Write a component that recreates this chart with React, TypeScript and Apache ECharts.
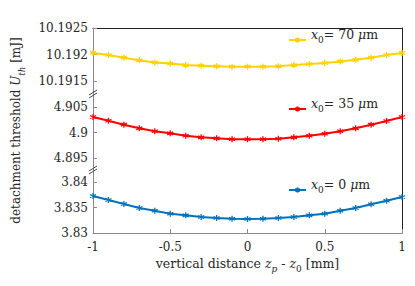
import React, { useEffect, useRef } from 'react';
import * as echarts from 'echarts';

const xValues = [-1, -0.9, -0.8, -0.7, -0.6, -0.5, -0.4, -0.3, -0.2, -0.1, 0, 0.1, 0.2, 0.3, 0.4, 0.5, 0.6, 0.7, 0.8, 0.9, 1];
const u70 = [10.19203, 10.19199, 10.19194, 10.19189, 10.19185, 10.19183, 10.1918, 10.19179, 10.19178, 10.19177, 10.19177, 10.19177, 10.19178, 10.1918, 10.19182, 10.19184, 10.19187, 10.1919, 10.19194, 10.19199, 10.19203];
const u35 = [4.90304, 4.90231, 4.90153, 4.90082, 4.90024, 4.89984, 4.89937, 4.89906, 4.89886, 4.89867, 4.89867, 4.89867, 4.89878, 4.89906, 4.89937, 4.89976, 4.90024, 4.90082, 4.90153, 4.90225, 4.90304];
const u0 = [3.83725, 3.83647, 3.83569, 3.8349, 3.83437, 3.83378, 3.83347, 3.83314, 3.83294, 3.8328, 3.83275, 3.8328, 3.83294, 3.83314, 3.83347, 3.83378, 3.83437, 3.8349, 3.83563, 3.83633, 3.83706];
const seriesNames = ['x0 = 70 um', 'x0 = 35 um', 'x0 = 0 um'];
const legendValues = ['70', '35', '0'];
const yRanges = [
  { min: 10.1915, max: 10.1925, interval: 0.0005 },
  { min: 4.895, max: 4.905, interval: 0.005 },
  { min: 3.83, max: 3.84, interval: 0.005 },
];
const colors = ['#FFD200', '#FF0000', '#0072BD'];

const FONT = 'DejaVu Serif';
const TXT = '#262626';
const LEFT = 93;
const WIDTH = 309;
const grids = [
  { top: 28, height: 53 },
  { top: 107, height: 51 },
  { top: 182, height: 51 },
];

const star = 'path://M5,0L5,10M0.7,2.5L9.3,7.5M0.7,7.5L9.3,2.5';

const mkRich = (fs: number) => ({
  n: { fontFamily: FONT, fontSize: fs, color: TXT, lineHeight: 14, verticalAlign: 'top' },
  i: { fontFamily: FONT, fontSize: fs, color: TXT, fontStyle: 'italic', lineHeight: 14, verticalAlign: 'top' },
  s: { fontFamily: FONT, fontSize: fs * 0.72, color: TXT, lineHeight: 24, verticalAlign: 'middle' },
  si: { fontFamily: FONT, fontSize: fs * 0.72, color: TXT, fontStyle: 'italic', lineHeight: 24, verticalAlign: 'middle' },
});

export default function App() {
  const ref = useRef<HTMLDivElement>(null);
  useEffect(() => {
    if (!ref.current) return;
    const chart = echarts.init(ref.current, null, { renderer: 'svg' });
    const dataSets = [u70, u35, u0];
    const legendTops = [28, 97, 178];

    const xAxes: any[] = grids.map((_, gi) => ({
      type: 'value',
      gridIndex: gi,
      min: -1,
      max: 1,
      interval: 0.5,
      show: gi === 2,
      axisLine: { show: true, onZero: false, lineStyle: { color: '#8a8a8a', width: 1 } },
      axisTick: { show: true, inside: true, length: 4, lineStyle: { color: '#8a8a8a' } },
      axisLabel: { color: TXT, fontFamily: FONT, fontSize: 12, margin: 8 },
      splitLine: { show: false },
      name: gi === 2 ? '{n|vertical distance }{i|z}{si|p}{n| - }{i|z}{s|0}{n| [mm]}' : '',
      nameLocation: 'middle',
      nameGap: 24,
      nameTextStyle: { fontFamily: FONT, rich: mkRich(12.5) },
    }));
    xAxes.push({
      type: 'value',
      gridIndex: 3,
      min: -1,
      max: 1,
      position: 'top',
      axisLine: { show: true, onZero: false, lineStyle: { color: '#222', width: 1 } },
      axisTick: { show: false },
      axisLabel: { show: false },
      splitLine: { show: false },
    });

    const yAxes: any[] = grids.map((_, gi) => ({
      type: 'value',
      gridIndex: gi,
      min: yRanges[gi].min,
      max: yRanges[gi].max,
      interval: yRanges[gi].interval,
      axisLine: { show: false, onZero: false },
      axisTick: { show: true, inside: true, length: 4, lineStyle: { color: '#8a8a8a' } },
      axisLabel: { color: TXT, fontFamily: FONT, fontSize: 12, margin: 5 },
      splitLine: { show: false },
    }));
    yAxes.push({
      type: 'value',
      gridIndex: 3,
      min: 0,
      max: 1,
      position: 'right',
      axisLine: { show: true, onZero: false, lineStyle: { color: '#222', width: 1 } },
      axisTick: { show: false },
      axisLabel: { show: false },
      splitLine: { show: false },
    });
    yAxes.push({
      type: 'value',
      gridIndex: 3,
      min: 0,
      max: 1,
      position: 'left',
      axisLine: { show: true, onZero: false, lineStyle: { color: '#8a8a8a', width: 1 } },
      axisTick: { show: false },
      axisLabel: { show: false },
      splitLine: { show: false },
      name: '{n|detachment threshold }{i|U}{si|th}{n| [mJ]}',
      nameLocation: 'middle',
      nameGap: 59,
      nameTextStyle: { fontFamily: FONT, rich: mkRich(12) },
    });

    const breakLines = (c: number) => [
      { type: 'line', z: 100, shape: { x1: LEFT - 4, y1: c - 1, x2: LEFT + 4, y2: c - 6 }, style: { stroke: '#444', lineWidth: 1 } },
      { type: 'line', z: 100, shape: { x1: LEFT - 4, y1: c + 2, x2: LEFT + 4, y2: c - 3 }, style: { stroke: '#444', lineWidth: 1 } },
    ];

    chart.setOption({
      animation: false,
      textStyle: { fontFamily: FONT },
      grid: [
        ...grids.map((g) => ({ left: LEFT, width: WIDTH, top: g.top, height: g.height })),
        { left: LEFT, width: WIDTH, top: 28, height: 205 },
      ],
      xAxis: xAxes,
      yAxis: yAxes,
      legend: seriesNames.map((nm, i) => ({
        data: [nm],
        left: 288,
        top: legendTops[i],
        padding: 0,
        itemWidth: 17,
        itemHeight: 6,
        formatter: () => `{i|x}{s|0}{n|= ${legendValues[i]} }{i|μ}{n|m}`,
        textStyle: { fontFamily: FONT, rich: mkRich(12.5) },
      })),
      graphic: [...breakLines(96), ...breakLines(172)],
      series: seriesNames.map((nm, i) => ({
        name: nm,
        type: 'line',
        xAxisIndex: i,
        yAxisIndex: i,
        data: xValues.map((x, k) => [x, dataSets[i][k]]),
        symbol: star,
        symbolSize: 6,
        lineStyle: { color: colors[i], width: 2 },
        itemStyle: { color: colors[i], borderColor: colors[i], borderWidth: 1.3 },
      })),
    });
    return () => chart.dispose();
  }, []);
  return <div ref={ref} style={{ position: 'fixed', left: 0, top: 0, width: 415, height: 286, background: '#fff' }} />;
}
